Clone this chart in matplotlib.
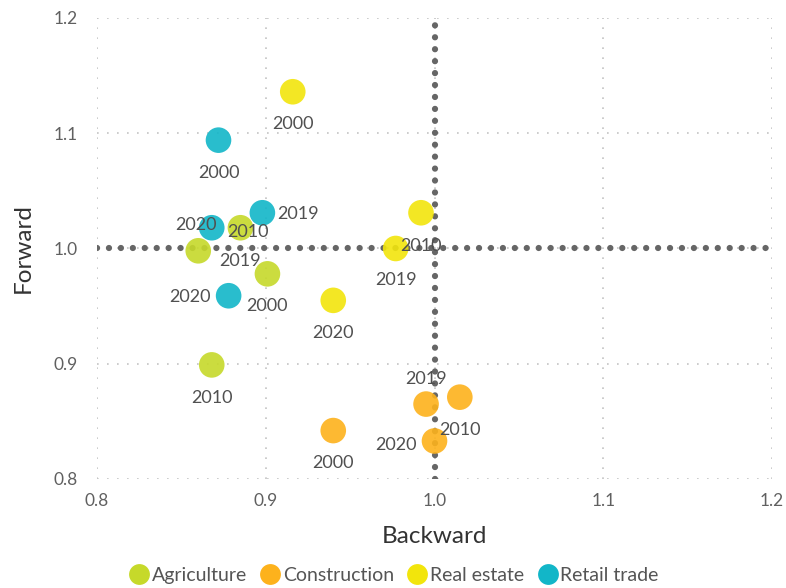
import matplotlib
matplotlib.use('Agg')
import matplotlib.pyplot as plt
from matplotlib.lines import Line2D

plt.rcParams['font.family'] = ['Lato', 'DejaVu Sans']

# data
sectors = ['Agriculture', 'Construction', 'Real estate', 'Retail trade']
years = {
    'Agriculture': ['2000', '2010', '2019', '2020'],
    'Construction': ['2000', '2010', '2019', '2020'],
    'Real estate': ['2000', '2010', '2019', '2020'],
    'Retail trade': ['2000', '2010', '2019', '2020'],
}
backward = {
    'Agriculture': [0.901, 0.868, 0.860, 0.885],
    'Construction': [0.940, 1.015, 0.995, 1.000],
    'Real estate': [0.916, 0.992, 0.977, 0.940],
    'Retail trade': [0.872, 0.868, 0.898, 0.878],
}
forward = {
    'Agriculture': [0.978, 0.899, 0.998, 1.018],
    'Construction': [0.842, 0.871, 0.865, 0.833],
    'Real estate': [1.136, 1.031, 1.000, 0.955],
    'Retail trade': [1.094, 1.018, 1.031, 0.959],
}

colors = {
    'Agriculture': '#c6d92a',
    'Construction': '#fdb21c',
    'Real estate': '#f2e50c',
    'Retail trade': '#12b6c8',
}

# label offsets in points (dx, dy), one per point, layout only
label_offsets = {
    'Agriculture': [(0, -23.5), (0, -24), (30, -7), (-32, 2)],
    'Construction': [(0, -23.5), (0, -23.5), (0, 18), (-28, -3)],
    'Real estate': [(0, -23.5), (0, -24), (0, -23), (0, -23.5)],
    'Retail trade': [(0, -23.5), (26, -3), (26, -1), (-28, -1)],
}

fig = plt.figure(figsize=(7.86, 5.88), dpi=100)
ax = fig.add_axes([0.1234, 0.1854, 0.8588, 0.784])

ax.set_xlim(0.8, 1.2)
ax.set_ylim(0.8, 1.2)
ticks = [0.8, 0.9, 1.0, 1.1, 1.2]
ax.set_xticks(ticks)
ax.set_yticks(ticks)
ax.set_xticklabels(['0.8', '0.9', '1.0', '1.1', '1.2'])
ax.set_yticklabels(['0.8', '0.9', '1.0', '1.1', '1.2'])
ax.tick_params(length=0, labelsize=12.5, colors='#606060')
ax.tick_params(axis='y', pad=14)
ax.tick_params(axis='x', pad=10)

for s in ax.spines.values():
    s.set_visible(False)

ax.grid(True, color='#c4c4c4', linestyle=(0, (1, 5)), linewidth=1.2)
ax.set_axisbelow(True)

# reference lines
ax.axvline(1.0, color='#666666', linestyle=(0, (0.01, 1.9)), linewidth=4.5,
           dash_capstyle='round', zorder=1)
ax.axhline(1.0, color='#666666', linestyle=(0, (0.01, 1.9)), linewidth=4.5,
           dash_capstyle='round', zorder=1)

for sec in sectors:
    ax.scatter(backward[sec], forward[sec], s=340, color=colors[sec],
               alpha=0.9, edgecolors='none', zorder=3, clip_on=False)

for sec in sectors:
    for x, y, yr, off in zip(backward[sec], forward[sec], years[sec], label_offsets[sec]):
        ax.annotate(yr, (x, y), xytext=off, textcoords='offset points',
                    ha='center', va='center', fontsize=13, color='#505050',
                    zorder=4)

ax.set_xlabel('Backward', fontsize=17.5, color='#333333', labelpad=12)
ax.set_ylabel('Forward', fontsize=17.5, color='#333333', labelpad=14)

handles = [Line2D([], [], marker='o', linestyle='none', markersize=15,
                  markerfacecolor=colors[sec], markeredgecolor='none', label=sec)
           for sec in sectors]
fig.legend(handles=handles, loc='center', bbox_to_anchor=(0.5, 0.022), ncol=4,
           frameon=False, fontsize=14, labelcolor='#555555', handletextpad=0.05,
           columnspacing=0.6, handlelength=1.2)

fig.savefig('out.png', dpi=100)
